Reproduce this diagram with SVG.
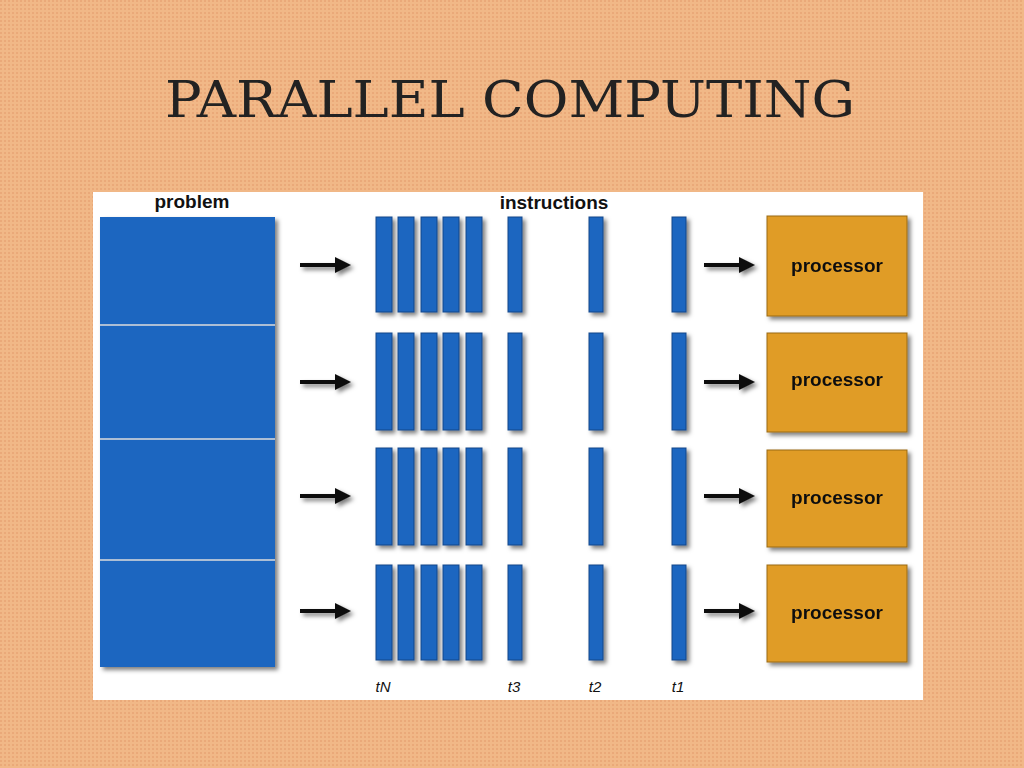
<svg xmlns="http://www.w3.org/2000/svg" width="1024" height="768" viewBox="0 0 1024 768">
<defs>
<style>
.lbl{font-family:"Liberation Sans",Arial,sans-serif;font-weight:bold;font-size:19px;fill:#111}
.t{font-family:"Liberation Sans",Arial,sans-serif;font-style:italic;font-size:15px;fill:#111}
.bar{fill:#1f66c0;stroke:#14468a;stroke-width:1}
.proc{fill:#e09c25;stroke:#9a6a14;stroke-width:1}
.arr{stroke:#111;stroke-width:4;fill:none;marker-end:url(#ah)}
</style>
<marker id="ah" markerWidth="4" markerHeight="4" refX="2" refY="2" orient="auto"><path d="M0,0 L4,2 L0,4 Z" fill="#111"/></marker>
<filter id="sh" x="-10%" y="-10%" width="130%" height="130%"><feDropShadow dx="3" dy="3" stdDeviation="2" flood-color="#000" flood-opacity="0.5"/></filter>
<pattern id="bg" width="4" height="4" patternUnits="userSpaceOnUse"><rect width="4" height="4" fill="#f1b887"/><rect width="2" height="2" fill="#eaa979"/></pattern>
</defs>
<rect width="1024" height="768" fill="url(#bg)"/>
<text x="510" y="117" text-anchor="middle" font-family="'DejaVu Serif','Liberation Serif',serif" font-size="50" fill="#222" textLength="690" lengthAdjust="spacingAndGlyphs">PARALLEL COMPUTING</text>
<rect x="93" y="192" width="830" height="508" fill="#fff"/>
<g id="labels">
<text class="lbl" x="192" y="208" text-anchor="middle">problem</text>
<text class="lbl" x="554" y="209" text-anchor="middle">instructions</text>
<text class="t" x="383" y="692" text-anchor="middle">tN</text>
<text class="t" x="514" y="692" text-anchor="middle">t3</text>
<text class="t" x="595" y="692" text-anchor="middle">t2</text>
<text class="t" x="678" y="692" text-anchor="middle">t1</text>
</g>
<g id="problem" filter="url(#sh)">
<rect x="100" y="217" width="175" height="450" fill="#1f66c0"/>
<g stroke="#ddd" stroke-width="1.5"><line x1="100" y1="325" x2="275" y2="325"/><line x1="100" y1="439" x2="275" y2="439"/><line x1="100" y1="560" x2="275" y2="560"/></g>
</g>
<g id="instructions" filter="url(#sh)">
<g id="row1"><rect class="bar" x="376" y="217" width="16" height="95"/><rect class="bar" x="398" y="217" width="16" height="95"/><rect class="bar" x="421" y="217" width="16" height="95"/><rect class="bar" x="443" y="217" width="16" height="95"/><rect class="bar" x="466" y="217" width="16" height="95"/><rect class="bar" x="508" y="217" width="14" height="95"/><rect class="bar" x="589" y="217" width="14" height="95"/><rect class="bar" x="672" y="217" width="14" height="95"/></g>
<g id="row2"><rect class="bar" x="376" y="333" width="16" height="97"/><rect class="bar" x="398" y="333" width="16" height="97"/><rect class="bar" x="421" y="333" width="16" height="97"/><rect class="bar" x="443" y="333" width="16" height="97"/><rect class="bar" x="466" y="333" width="16" height="97"/><rect class="bar" x="508" y="333" width="14" height="97"/><rect class="bar" x="589" y="333" width="14" height="97"/><rect class="bar" x="672" y="333" width="14" height="97"/></g>
<g id="row3"><rect class="bar" x="376" y="448" width="16" height="97"/><rect class="bar" x="398" y="448" width="16" height="97"/><rect class="bar" x="421" y="448" width="16" height="97"/><rect class="bar" x="443" y="448" width="16" height="97"/><rect class="bar" x="466" y="448" width="16" height="97"/><rect class="bar" x="508" y="448" width="14" height="97"/><rect class="bar" x="589" y="448" width="14" height="97"/><rect class="bar" x="672" y="448" width="14" height="97"/></g>
<g id="row4"><rect class="bar" x="376" y="565" width="16" height="95"/><rect class="bar" x="398" y="565" width="16" height="95"/><rect class="bar" x="421" y="565" width="16" height="95"/><rect class="bar" x="443" y="565" width="16" height="95"/><rect class="bar" x="466" y="565" width="16" height="95"/><rect class="bar" x="508" y="565" width="14" height="95"/><rect class="bar" x="589" y="565" width="14" height="95"/><rect class="bar" x="672" y="565" width="14" height="95"/></g>
</g>
<g id="proc1" filter="url(#sh)"><rect class="proc" x="767" y="216" width="140" height="100"/><text class="lbl" x="837" y="272" text-anchor="middle">processor</text></g>
<g id="proc2" filter="url(#sh)"><rect class="proc" x="767" y="333" width="140" height="99"/><text class="lbl" x="837" y="386" text-anchor="middle">processor</text></g>
<g id="proc3" filter="url(#sh)"><rect class="proc" x="767" y="450" width="140" height="97"/><text class="lbl" x="837" y="504" text-anchor="middle">processor</text></g>
<g id="proc4" filter="url(#sh)"><rect class="proc" x="767" y="565" width="140" height="97"/><text class="lbl" x="837" y="619" text-anchor="middle">processor</text></g>
<g id="connectors" filter="url(#sh)">
<line class="arr" x1="300" y1="265" x2="343" y2="265"/>
<line class="arr" x1="300" y1="382" x2="343" y2="382"/>
<line class="arr" x1="300" y1="496" x2="343" y2="496"/>
<line class="arr" x1="300" y1="611" x2="343" y2="611"/>
<line class="arr" x1="704" y1="265" x2="747" y2="265"/>
<line class="arr" x1="704" y1="382" x2="747" y2="382"/>
<line class="arr" x1="704" y1="496" x2="747" y2="496"/>
<line class="arr" x1="704" y1="611" x2="747" y2="611"/>
</g>
</svg>
